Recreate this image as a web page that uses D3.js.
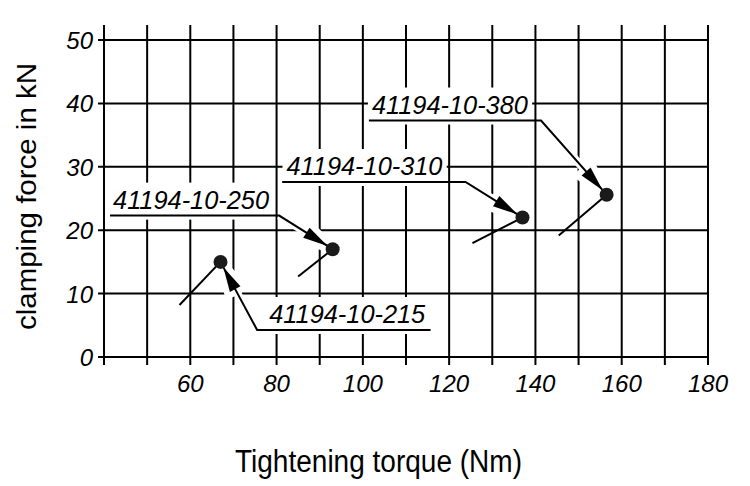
<!DOCTYPE html>
<html><head><meta charset="utf-8">
<script src="https://cdn.jsdelivr.net/npm/d3@7"></script>
<style>body{margin:0;background:#fff}svg{display:block}</style>
</head><body>
<script>
// ---- data ----
const xTicks = [40,50,60,70,80,90,100,110,120,130,140,150,160,170,180];
const xTickLabels = [60,80,100,120,140,160,180];
const yTicks = [0,10,20,30,40,50];
const articles = ["41194-10-215","41194-10-250","41194-10-310","41194-10-380"];
const torque = [67, 93, 137, 156.5];       // Nm
const clampForce = [15, 17, 22, 25.6];     // kN
const tailTorque = [57.5, 85, 125.4, 145.4];
const tailForce = [8.2, 12.7, 17.95, 19.15];
// annotation anchors (data units): underline start x, end x, y
const noteStartX = [75.5, 41.4, 81.3, 101.4];
const noteEndX = [115.7, 80.6, 123.8, 141.3];
const noteY = [4.26, 22.3, 27.6, 37.3];
const noteTextX = [78.3, 42.1, 82.3, 102.1];
const xTitle = "Tightening torque (Nm)";
const yTitle = "clamping force in kN";

const W = 750, H = 486;
const x = d3.scaleLinear().domain([40,180]).range([104,708]);
const y = d3.scaleLinear().domain([0,50]).range([357,40]);

const svg = d3.select("body").append("svg").attr("width",W).attr("height",H);
const font = "'Liberation Sans', Arial, sans-serif";

// grid
const g = svg.append("g").attr("stroke","#000").attr("stroke-width",2);
g.selectAll(".v").data(xTicks).enter().append("line")
  .attr("x1",d=>x(d)).attr("x2",d=>x(d)).attr("y1",25).attr("y2",y(0)+8);
g.selectAll(".h").data(yTicks).enter().append("line")
  .attr("y1",d=>y(d)).attr("y2",d=>y(d)).attr("x1",x(40)-6).attr("x2",x(180));

// tick labels
svg.append("g").selectAll("text").data(yTicks).enter().append("text")
  .attr("x",93).attr("y",d=>y(d)+9).attr("text-anchor","end")
  .attr("font-family",font).attr("font-style","italic").attr("font-size",24)
  .text(d=>d);
svg.append("g").selectAll("text").data(xTickLabels).enter().append("text")
  .attr("x",d=>x(d)).attr("y",392).attr("text-anchor","middle")
  .attr("font-family",font).attr("font-style","italic").attr("font-size",24)
  .text(d=>d);

// titles
svg.append("text").attr("x",378.5).attr("y",472).attr("text-anchor","middle")
  .attr("font-family",font).attr("font-size",31)
  .attr("textLength",287).attr("lengthAdjust","spacingAndGlyphs").text(xTitle);
svg.append("text").attr("transform","translate(36,196.5) rotate(-90)")
  .attr("text-anchor","middle").attr("font-family",font).attr("font-size",28)
  .attr("textLength",267).attr("lengthAdjust","spacingAndGlyphs").text(yTitle);

// annotation label boxes + text
const idx = d3.range(articles.length);
const boxes = svg.append("g");
const texts = svg.append("g");
idx.forEach(i=>{
  const t = texts.append("text")
    .attr("x",x(noteTextX[i])).attr("y",y(noteY[i])-7)
    .attr("font-family",font).attr("font-style","italic").attr("font-size",26.5)
    .attr("textLength",156).attr("lengthAdjust","spacingAndGlyphs")
    .text(articles[i]);
  const bb = t.node().getBBox();
  boxes.append("rect").attr("x",bb.x-4).attr("y",bb.y-2)
    .attr("width",bb.width+8).attr("height",y(noteY[i])-bb.y+6).attr("fill","#fff");
});

// leaders
function leaderPts(i){
  const dx = x(torque[i]), dy = y(clampForce[i]);
  if (noteStartX[i] > torque[i]) {
    return [[x(noteEndX[i]),y(noteY[i])],[x(noteStartX[i]),y(noteY[i])],[dx,dy]];
  }
  return [[x(noteStartX[i]),y(noteY[i])],[x(noteEndX[i]),y(noteY[i])],[dx,dy]];
}
function arrowHead(i){
  const pts = leaderPts(i);
  const [bx,by] = pts[1], [tx,ty] = pts[2];
  const ang = Math.atan2(ty-by, tx-bx);
  const r = 6, len = 25, hw = 6;
  const tipX = tx - r*Math.cos(ang), tipY = ty - r*Math.sin(ang);
  const baseX = tipX - len*Math.cos(ang), baseY = tipY - len*Math.sin(ang);
  const px = -Math.sin(ang), py = Math.cos(ang);
  return [[tipX,tipY],[baseX+px*hw,baseY+py*hw],[baseX-px*hw,baseY-py*hw]];
}
const line = d3.line();
const halo = svg.append("g");
const lead = svg.append("g");
idx.forEach(i=>{
  const p = leaderPts(i);
  halo.append("path").attr("d",line([p[1],p[2]])).attr("fill","none")
    .attr("stroke","#fff").attr("stroke-width",8);
  halo.append("path").attr("d",line(arrowHead(i))+"Z").attr("fill","#fff")
    .attr("stroke","#fff").attr("stroke-width",12).attr("stroke-linejoin","round");
  lead.append("path").attr("d",line(p)).attr("fill","none")
    .attr("stroke","#000").attr("stroke-width",2);
  lead.append("path").attr("d",line(arrowHead(i))+"Z").attr("fill","#000");
});

// tails and points
svg.append("g").selectAll("line").data(idx).enter().append("line")
  .attr("x1",i=>x(tailTorque[i])).attr("y1",i=>y(tailForce[i]))
  .attr("x2",i=>x(torque[i])).attr("y2",i=>y(clampForce[i]))
  .attr("stroke","#000").attr("stroke-width",2);
svg.append("g").selectAll("circle").data(idx).enter().append("circle")
  .attr("cx",i=>x(torque[i])).attr("cy",i=>y(clampForce[i])).attr("r",7)
  .attr("fill","#1a1a1a");
</script>
</body></html>
